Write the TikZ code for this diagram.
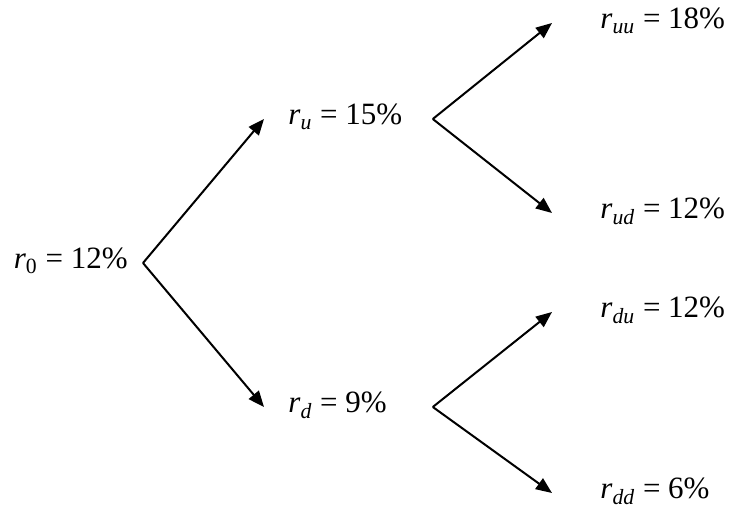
\documentclass[tikz,border=0pt]{standalone}
\usepackage{amsmath}
\usepackage{fontspec}
\setmainfont{Liberation Serif}
\usetikzlibrary{arrows.meta}

\newcommand{\rate}[2]{\textit{r}$_{#1}$ = #2\%}

\begin{document}
\begin{tikzpicture}[
        x=0.5pt, y=-0.5pt,
        rate/.style={font=\fontsize{15.5}{18}\selectfont, text height=0.8em, text depth=0.2em, inner ysep=0pt},
        root/.style={rate, anchor=east, inner xsep=7.5pt},
        mid/.style={rate, anchor=west, inner xsep=12pt},
        leaf/.style={rate, anchor=west, inner xsep=24pt},
        arrow/.style={line width=1pt, -{Triangle[length=8pt, width=6.5pt]}}
    ]
        \useasboundingbox (0,0) rectangle (729,517);

        \node (r0) [root] at (143,263) {\rate{\text{0}}{12}};
        \node (ru) [mid] at (264,119) {\makebox[60pt][l]{\rate{\textit{u}}{15}}};
        \node (rd) [mid] at (264,407) {\makebox[60pt][l]{\rate{\textit{d}}{9}}};
        \node (ruu) [leaf] at (552,23) {\rate{\textit{uu}}{18}};
        \node (rud) [leaf] at (552,213) {\rate{\textit{ud}}{12}};
        \node (rdu) [leaf] at (552,312) {\rate{\textit{du}}{12}};
        \node (rdd) [leaf] at (552,493) {\rate{\textit{dd}}{6}};

        \draw [arrow] (r0.east) -- (ru.west);
        \draw [arrow] (r0.east) -- (rd.west);
        \draw [arrow] (ru.east) -- (ruu.west);
        \draw [arrow] (ru.east) -- (rud.west);
        \draw [arrow] (rd.east) -- (rdu.west);
        \draw [arrow] (rd.east) -- (rdd.west);
    \end{tikzpicture}
\end{document}
